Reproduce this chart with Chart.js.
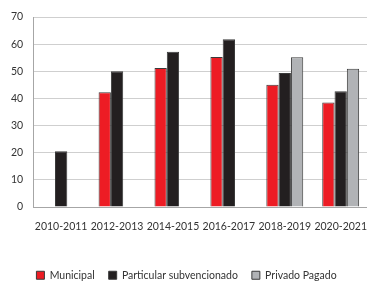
<!DOCTYPE html>
<html>
<head>
<meta charset="utf-8">
<script src="https://cdn.jsdelivr.net/npm/chart.js@4"></script>
<style>
  html, body { margin: 0; padding: 0; background: #fff; overflow: hidden; }
</style>
</head>
<body>
<canvas id="chart" width="372" height="282"></canvas>
<script>
const periods = ["2010-2011", "2012-2013", "2014-2015", "2016-2017", "2018-2019", "2020-2021"];
const municipal = [null, 42.3, 51.2, 55.3, 45.0, 38.5];
const subvencionado = [20.5, 50.0, 57.2, 61.8, 49.4, 42.6];
const privado = [null, null, null, null, 55.2, 50.9];
const yTicks = [0, 10, 20, 30, 40, 50, 60, 70];

const font = { family: "Lato, 'Open Sans', sans-serif", size: 10.5 };
const xFont = { family: "Lato, 'Open Sans', sans-serif", size: 10.5 };

// keep the legend low, near the bottom edge
const legendFit = {
    id: "legendFit",
    beforeInit(chart) {
        const fit = chart.legend.fit;
        chart.legend.fit = function () {
            fit.call(this);
            this.height = 26;
        };
    }
};

const ctx = document.getElementById("chart").getContext("2d");
new Chart(ctx, {
    type: "bar",
    data: {
        labels: periods,
        datasets: [{
            label: "Municipal",
            data: municipal,
            backgroundColor: "#ED1C24",
            borderColor: "#3a3a3a",
            borderWidth: 1
        }, {
            label: "Particular subvencionado",
            data: subvencionado,
            backgroundColor: "#231F20",
            borderColor: "#3a3a3a",
            borderWidth: 1
        }, {
            label: "Privado Pagado",
            data: privado,
            backgroundColor: "#B1B3B6",
            borderColor: "#3a3a3a",
            borderWidth: 1
        }]
    },
    plugins: [legendFit],
    options: {
        responsive: false,
        animation: false,
        layout: { padding: { top: 17, left: 1, right: 0, bottom: 0 } },
        datasets: { bar: { categoryPercentage: 0.66, barPercentage: 1 } },
        scales: {
            x: {
                grid: { display: false },
                border: { color: "#a6a6a6", width: 1 },
                ticks: { color: "#333", font: xFont, padding: 5, maxRotation: 0, autoSkip: false },
                afterFit: (scale) => { scale.height = 49; }
            },
            y: {
                min: 0,
                max: 70,
                afterBuildTicks: (scale) => { scale.ticks = yTicks.map(v => ({ value: v })); },
                grid: { color: "#cfcfcf", lineWidth: 1, drawTicks: false },
                border: { color: "#a6a6a6", width: 1 },
                ticks: { color: "#333", font: font, padding: 10 }
            }
        },
        plugins: {
            legend: {
                position: "bottom",
                labels: {
                    color: "#333",
                    font: font,
                    boxWidth: 8,
                    boxHeight: 8,
                    padding: 14
                }
            },
            tooltip: { enabled: false }
        }
    }
});
</script>
</body>
</html>
